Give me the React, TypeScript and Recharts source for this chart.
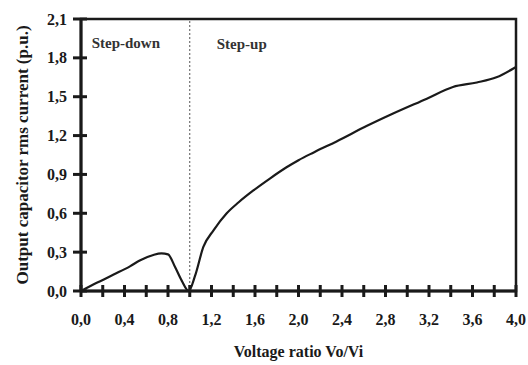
import React from 'react';
import { LineChart, Line, XAxis, YAxis, ReferenceLine, ReferenceArea, ReferenceDot } from 'recharts';

const voltageRatio = [0.0, 0.15, 0.3, 0.45, 0.54, 0.665, 0.74, 0.8, 0.865, 0.926, 0.99, 1.05, 1.125, 1.22, 1.34, 1.45, 1.585, 1.74, 1.89, 2.0, 2.14, 2.35, 2.63, 2.87, 3.18, 3.42, 3.64, 3.82, 3.98, 4.0];
const rmsCurrent = [0.0, 0.065, 0.127, 0.19, 0.235, 0.278, 0.29, 0.283, 0.185, 0.08, 0.0, 0.12, 0.34, 0.47, 0.6, 0.685, 0.776, 0.87, 0.955, 1.01, 1.07, 1.155, 1.275, 1.37, 1.485, 1.575, 1.61, 1.65, 1.72, 1.73];
const xTicks = [0, 0.2, 0.4, 0.6, 0.8, 1.0, 1.2, 1.4, 1.6, 1.8, 2.0, 2.2, 2.4, 2.6, 2.8, 3.0, 3.2, 3.4, 3.6, 3.8, 4.0];
const yTicks = [0, 0.3, 0.6, 0.9, 1.2, 1.5, 1.8, 2.1];
const regionLabels = ['Step-down', 'Step-up'];

const data = voltageRatio.map((x, i) => ({ x, y: rmsCurrent[i] }));

const FONT = '"Liberation Serif", "Times New Roman", serif';
const INK = '#1a1a1a';
const fmt = (v: number) => v.toFixed(1).replace('.', ',');

const XTick = (props: any) => {
  const { x, y, payload } = props;
  const v = payload.value as number;
  const labeled = Math.abs(v / 0.4 - Math.round(v / 0.4)) < 1e-6;
  return (
    <g>
      <line x1={x} x2={x} y1={y - 6} y2={y + 6} stroke={INK} strokeWidth={3} />
      {labeled && (
        <text x={x} y={y + 34} textAnchor="middle" fontFamily={FONT} fontSize={16} fontWeight="bold" fill={INK}>
          {fmt(v)}
        </text>
      )}
    </g>
  );
};

const YTick = (props: any) => {
  const { x, y, payload } = props;
  const v = payload.value as number;
  return (
    <g>
      <line x1={x - 8} x2={x + 6} y1={y} y2={y} stroke={INK} strokeWidth={3} />
      <text x={x - 14} y={y + 5.5} textAnchor="end" fontFamily={FONT} fontSize={16} fontWeight="bold" fill={INK}>
        {fmt(v)}
      </text>
    </g>
  );
};

export default function App() {
  return (
    <div style={{ position: 'absolute', left: 0, top: 0, width: 528, height: 365, background: '#fff' }}>
      <LineChart width={528} height={365} data={data} margin={{ top: 19, right: 12, left: 0, bottom: 0 }}>
        <XAxis
          dataKey="x"
          type="number"
          domain={[0, 4]}
          ticks={xTicks}
          interval={0}
          tickSize={0}
          tickMargin={0}
          tick={<XTick />}
          axisLine={{ stroke: INK, strokeWidth: 3 }}
          tickLine={false}
          height={74}
          label={{ value: 'Voltage ratio Vo/Vi', position: 'insideBottom', offset: 8, style: { fontFamily: FONT, fontSize: 16, fontWeight: 'bold', fill: INK } }}
        />
        <YAxis
          type="number"
          domain={[0, 2.1]}
          ticks={yTicks}
          interval={0}
          tickSize={0}
          tickMargin={0}
          tick={<YTick />}
          axisLine={{ stroke: INK, strokeWidth: 3 }}
          tickLine={false}
          width={81}
          label={{ value: 'Output capacitor rms current (p.u.)', angle: -90, position: 'insideLeft', offset: 22, style: { textAnchor: 'middle', fontFamily: FONT, fontSize: 17, fontWeight: 'bold', fill: INK } }}
        />
        <ReferenceArea x1={0} x2={4} y1={0} y2={2.1} fill="none" stroke={INK} strokeWidth={2.5} ifOverflow="visible" />
        <ReferenceLine x={1} stroke="#555" strokeWidth={1} strokeDasharray="2 2" />
        <ReferenceDot x={0.098} y={1.92} r={0} fill="none" stroke="none"
          label={{ value: regionLabels[0], position: 'right', offset: 0, style: { fontFamily: FONT, fontSize: 15, fontWeight: 'bold', fill: '#333' } }} />
        <ReferenceDot x={1.248} y={1.91} r={0} fill="none" stroke="none"
          label={{ value: regionLabels[1], position: 'right', offset: 0, style: { fontFamily: FONT, fontSize: 15, fontWeight: 'bold', fill: '#333' } }} />
        <Line type="monotone" dataKey="y" stroke={INK} strokeWidth={2.2} dot={false} isAnimationActive={false} />
      </LineChart>
    </div>
  );
}
